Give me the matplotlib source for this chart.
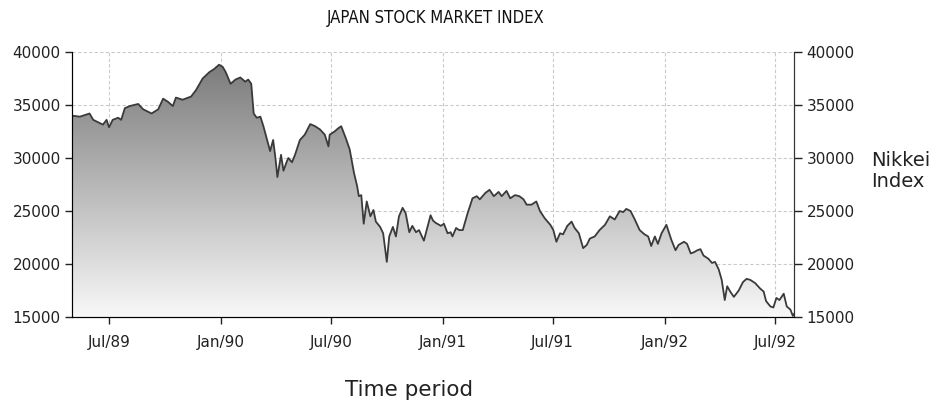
import numpy as np
import pandas as pd
import matplotlib
matplotlib.use("Agg")
import matplotlib.pyplot as plt
import matplotlib.dates as mdates
from matplotlib.colors import LinearSegmentedColormap

# Nikkei index (roughly weekly)
dates = [
    "1989-05-01", "1989-05-14", "1989-05-30", "1989-06-05", "1989-06-21", "1989-06-27",
    "1989-07-01", "1989-07-07", "1989-07-16", "1989-07-21", "1989-07-27", "1989-08-04",
    "1989-08-18", "1989-08-26", "1989-09-09", "1989-09-20", "1989-09-28", "1989-10-06",
    "1989-10-14", "1989-10-19", "1989-10-30", "1989-11-13", "1989-11-21", "1989-12-02",
    "1989-12-13", "1989-12-21", "1989-12-29",
    "1990-01-04", "1990-01-09", "1990-01-17", "1990-01-25", "1990-02-02", "1990-02-10",
    "1990-02-15", "1990-02-20", "1990-02-24", "1990-03-01", "1990-03-07", "1990-03-12",
    "1990-03-18", "1990-03-23", "1990-03-28", "1990-04-01", "1990-04-04", "1990-04-10",
    "1990-04-14", "1990-04-19", "1990-04-22", "1990-04-28", "1990-05-03", "1990-05-11",
    "1990-05-19", "1990-05-28", "1990-06-05", "1990-06-13", "1990-06-21", "1990-06-27",
    "1990-06-29", "1990-07-07", "1990-07-13", "1990-07-18", "1990-07-26", "1990-08-01",
    "1990-08-08", "1990-08-13", "1990-08-16", "1990-08-20", "1990-08-24", "1990-08-29",
    "1990-09-04", "1990-09-09", "1990-09-13", "1990-09-20", "1990-09-25", "1990-10-01",
    "1990-10-05", "1990-10-11", "1990-10-16", "1990-10-21", "1990-10-27", "1990-11-01",
    "1990-11-07", "1990-11-12", "1990-11-18", "1990-11-23", "1990-12-01", "1990-12-07",
    "1990-12-12", "1990-12-16", "1990-12-20", "1990-12-29",
    "1991-01-03", "1991-01-09", "1991-01-14", "1991-01-17", "1991-01-23", "1991-01-28",
    "1991-02-03", "1991-02-11", "1991-02-19", "1991-02-26", "1991-03-03", "1991-03-12",
    "1991-03-19", "1991-03-26", "1991-04-03", "1991-04-08", "1991-04-16", "1991-04-22",
    "1991-04-30", "1991-05-07", "1991-05-14", "1991-05-19", "1991-05-27", "1991-06-04",
    "1991-06-10", "1991-06-18", "1991-06-27", "1991-07-02", "1991-07-07", "1991-07-13",
    "1991-07-18", "1991-07-25", "1991-08-01", "1991-08-06", "1991-08-13", "1991-08-20",
    "1991-08-26", "1991-08-31", "1991-09-08", "1991-09-16", "1991-09-25", "1991-10-03",
    "1991-10-11", "1991-10-19", "1991-10-25", "1991-10-30", "1991-11-06", "1991-11-13",
    "1991-11-21", "1991-11-29", "1991-12-05", "1991-12-10", "1991-12-16", "1991-12-21",
    "1991-12-27",
    "1992-01-04", "1992-01-12", "1992-01-19", "1992-01-24", "1992-02-02", "1992-02-07",
    "1992-02-13", "1992-02-18", "1992-02-24", "1992-02-29", "1992-03-05", "1992-03-13",
    "1992-03-19", "1992-03-24", "1992-03-30", "1992-04-04", "1992-04-09", "1992-04-13",
    "1992-04-18", "1992-04-24", "1992-05-02", "1992-05-09", "1992-05-15", "1992-05-21",
    "1992-05-29", "1992-06-06", "1992-06-12", "1992-06-16", "1992-06-23", "1992-06-28",
    "1992-07-03", "1992-07-08", "1992-07-15", "1992-07-20", "1992-07-26", "1992-07-30",
    "1992-08-01",
]
nikkei = [
    34000, 33900, 34200, 33600, 33150, 33600,
    32900, 33600, 33800, 33600, 34700, 34900,
    35100, 34600, 34200, 34600, 35600, 35300,
    34900, 35700, 35500, 35800, 36400, 37500,
    38100, 38400, 38800,
    38600, 38100, 37000, 37400, 37600, 37200,
    37400, 37000, 34200, 33800, 33900, 33000,
    31700, 30650, 31700, 29900, 28200, 30300,
    28800, 29600, 30000, 29600, 30300, 31700,
    32200, 33200, 33000, 32700, 32200, 31100,
    32200, 32500, 32800, 33000, 31800, 30800,
    28600, 27400, 26400, 26500, 23800, 25900,
    24500, 25100, 24000, 23500, 22900, 20200,
    22600, 23500, 22600, 24500, 25300, 24800,
    23000, 23600, 23000, 23200, 22200, 23500,
    24600, 24100, 23900, 23600,
    23800, 22900, 23000, 22600, 23400, 23200,
    23200, 24800, 26200, 26400, 26100, 26700,
    27000, 26400, 26800, 26400, 26900, 26200,
    26500, 26400, 26100, 25600, 25600, 25900,
    25000, 24300, 23700, 23200, 22100, 22900,
    22800, 23600, 24000, 23400, 22900, 21500,
    21800, 22400, 22600, 23200, 23700, 24500,
    24200, 25000, 24900, 25200, 25000, 24200,
    23200, 22800, 22600, 21700, 22600, 21900,
    22900,
    23700, 22300, 21300, 21800, 22100, 21900,
    21000, 21100, 21300, 21400, 20800, 20500,
    20100, 20200, 19500, 18500, 16600, 17900,
    17400, 16900, 17500, 18300, 18600, 18500,
    18200, 17700, 17400, 16500, 16000, 15900,
    16800, 16600, 17200, 16000, 15700, 15100,
    15300,
]

tick_dates = ["1989-07-01", "1990-01-01", "1990-07-01", "1991-01-01",
              "1991-07-01", "1992-01-01", "1992-07-01"]
tick_labels = ["Jul/89", "Jan/90", "Jul/90", "Jan/91", "Jul/91", "Jan/92", "Jul/92"]
y_ticks = [15000, 20000, 25000, 30000, 35000, 40000]

x = mdates.date2num(pd.to_datetime(dates))
xt = mdates.date2num(pd.to_datetime(tick_dates))
x0 = mdates.date2num(pd.Timestamp("1989-05-01"))
x1 = mdates.date2num(pd.Timestamp("1992-08-01"))
ymin, ymax = 15000, 40000

fig = plt.figure(figsize=(9.48, 4.07), dpi=100)
ax = fig.add_axes([0.0759, 0.2211, 0.7617, 0.6511])

# gradient fill under the curve
poly = ax.fill_between(x, nikkei, ymin, color="none", lw=0)
cmap = LinearSegmentedColormap.from_list("g", ["#f8f8f8", "#767676"])
grad = np.linspace(0, 1, 256).reshape(-1, 1)
im = ax.imshow(grad, cmap=cmap, aspect="auto", origin="lower",
               extent=[x0, x1, ymin, ymax], zorder=1)
im.set_clip_path(poly.get_paths()[0], transform=ax.transData)
ax.plot(x, nikkei, color="#3a3a3a", lw=1.3, zorder=3)

ax.set_xlim(x0, x1)
ax.set_ylim(ymin, ymax)
ax.set_xticks(xt)
ax.set_xticklabels(tick_labels)
ax.set_yticks(y_ticks)
ax.grid(True, color="#cacaca", ls=(0, (3, 2)), lw=0.8, zorder=0)
ax.set_axisbelow(True)

ax.spines["top"].set_visible(False)
for s in ["left", "bottom", "right"]:
    ax.spines[s].set_color("#333333")
ax.tick_params(axis="y", direction="out", length=5, width=1, pad=3,
               labelsize=11, colors="#222222")
ax.tick_params(axis="x", direction="out", length=5, width=1, pad=8,
               labelsize=11, colors="#222222")

ax2 = ax.twinx()
ax2.set_ylim(ymin, ymax)
ax2.set_yticks(y_ticks)
ax2.spines["top"].set_visible(False)
ax2.spines["right"].set_color("#333333")
ax2.tick_params(axis="y", direction="out", length=6, width=1, pad=3,
                labelsize=11, colors="#222222")

fig.text(0.459, 0.955, "JAPAN STOCK MARKET INDEX", ha="center", va="center",
         fontsize=12, fontstretch="condensed", color="#111111")
fig.text(0.919, 0.58, "Nikkei\nIndex", ha="left", va="center",
         fontsize=14, color="#222222", linespacing=1.1)
fig.text(0.431, 0.042, "Time period", ha="center", va="center",
         fontsize=15.5, color="#222222")

fig.savefig("out.png", dpi=100, facecolor="white")
